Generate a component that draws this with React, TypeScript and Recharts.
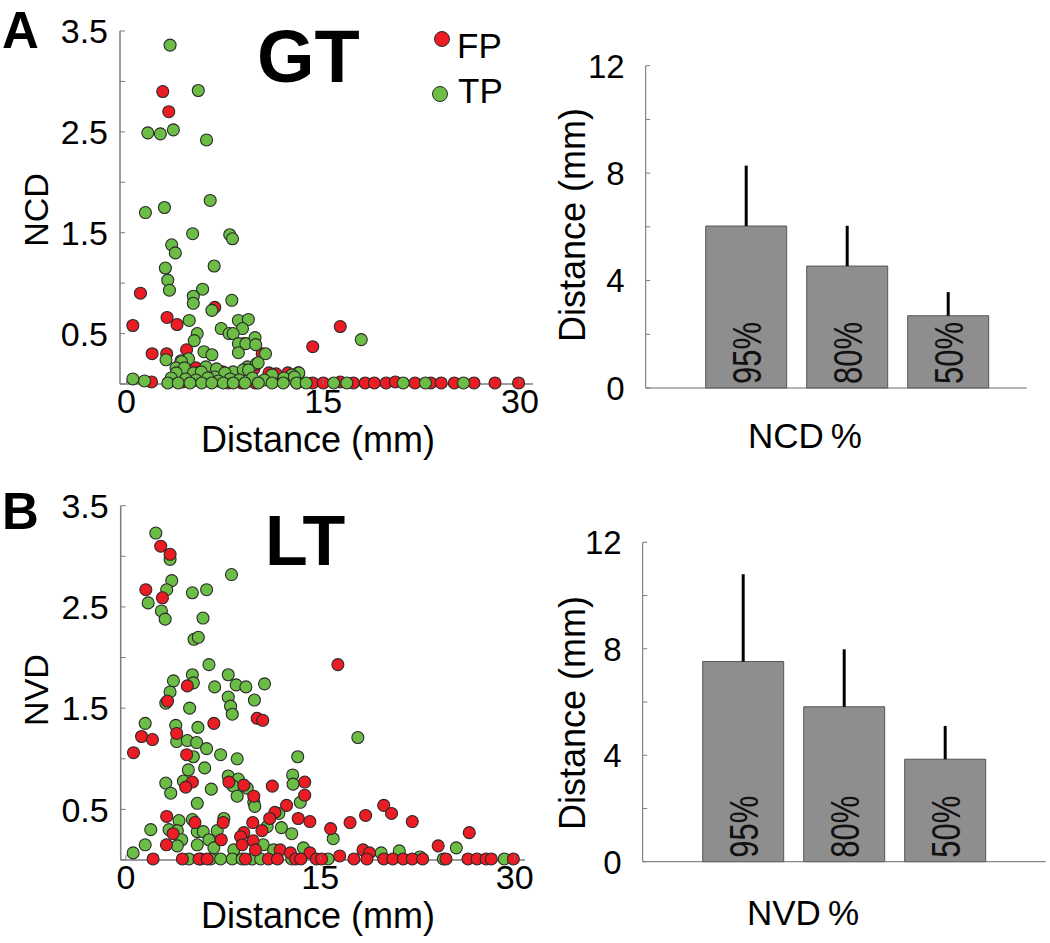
import React from 'react';
import {
  ScatterChart,
  Scatter,
  BarChart,
  Bar,
  ErrorBar,
  LabelList,
  XAxis,
  YAxis,
  Legend,
} from 'recharts';

const FONT = '"Liberation Sans", Arial, Helvetica, sans-serif';
const RED = '#ec1c24';
const GREEN = '#6cbd45';
const EDGE = '#2a2a2a';
const AXIS = '#7d7d7d';
const BAR_FILL = '#8e8e8e';

type Pt = [number, number];

// GT panel: [distance mm, NCD]
const gtTP: Pt[] = [
  [3.32, 3.36], [5.47, 2.91], [1.62, 2.49], [2.58, 2.48], [3.57, 2.52], [6.1, 2.42],
  [6.38, 1.82], [1.44, 1.7], [2.89, 1.75], [5.04, 1.49], [7.87, 1.48], [8.08, 1.44],
  [3.44, 1.38], [3.72, 1.3], [6.68, 1.17], [2.96, 1.15], [3.14, 1.03], [3.27, 0.93],
  [5.8, 0.94], [5.09, 0.87], [5.09, 0.8], [8.03, 0.83], [6.51, 0.73], [4.78, 0.63],
  [8.53, 0.63], [9.29, 0.64], [7.22, 0.55], [8.84, 0.55], [5.39, 0.5], [7.82, 0.5],
  [8.13, 0.5], [5.16, 0.43], [8.53, 0.4], [9.1, 0.4], [9.8, 0.46], [9.85, 0.39],
  [17.9, 0.44], [5.9, 0.32], [6.51, 0.29], [8.53, 0.31], [10.6, 0.3], [3.01, 0.24],
  [4.15, 0.23], [4.73, 0.25], [4.2, 0.22], [3.77, 0.16], [4.41, 0.16], [6.05, 0.17],
  [6.86, 0.15], [8.13, 0.12], [9.22, 0.17], [9.9, 0.2], [10.04, 0.21], [13.14, 0.11],
  [12.6, 0.09], [0.48, 0.05], [1.37, 0.03], [5.1, 0.11], [5.7, 0.12], [3.79, 0.11],
  [3.4, 0.06], [3.15, 0.01], [6.75, 0.07], [7.5, 0.11], [8.9, 0.14], [9.3, 0.14],
  [11.1, 0.09], [12.0, 0.06], [12.8, 0.07], [4.5, 0.05], [5.3, 0.04], [6.2, 0.06],
  [7.0, 0.03], [7.9, 0.05], [8.6, 0.04], [9.6, 0.06], [10.5, 0.04],
  [3.94, 0.01], [4.84, 0.01], [5.73, 0.01], [6.5, 0.01], [7.38, 0.01], [8.14, 0.01],
  [9.03, 0.01], [10.05, 0.01], [11.1, 0.01], [11.95, 0.01], [12.97, 0.01], [13.7, 0.01],
  [15.8, 0.01], [16.8, 0.01], [21.1, 0.01], [22.8, 0.01], [25.7, 0.01],
];

const gtFP: Pt[] = [
  [2.76, 2.9], [3.22, 2.7], [1.06, 0.9], [0.48, 0.58], [3.09, 0.66], [3.85, 0.59],
  [6.73, 0.76], [16.3, 0.57], [14.2, 0.37], [8.96, 0.4], [1.95, 0.3], [3.06, 0.3],
  [4.58, 0.34], [10.35, 0.3], [9.72, 0.15], [5.29, 0.16], [5.54, 0.11], [7.32, 0.12],
  [10.86, 0.11], [11.4, 0.1], [12.3, 0.11], [13.1, 0.11], [1.9, 0.02], [4.28, 0.02],
  [7.76, 0.01], [8.78, 0.01], [9.8, 0.01], [13.0, 0.01], [14.2, 0.01], [15.0, 0.01],
  [16.3, 0.02], [17.3, 0.01], [18.2, 0.01], [18.9, 0.01], [19.8, 0.01], [20.5, 0.02],
  [22.0, 0.01], [23.2, 0.01], [24.0, 0.01], [25.0, 0.01], [26.5, 0.01], [28.1, 0.01],
  [29.9, 0.01],
];

// LT panel: [distance mm, NVD]
const ltTP: Pt[] = [
  [2.31, 3.23], [3.41, 2.97], [3.54, 2.76], [3.15, 2.67], [1.72, 2.54], [2.74, 2.46],
  [3.03, 2.38], [5.13, 2.64], [6.23, 2.67], [8.15, 2.82], [5.95, 2.39], [5.26, 2.18],
  [5.59, 2.2], [6.41, 1.93], [7.9, 1.83], [5.13, 1.83], [5.21, 1.75], [3.67, 1.77],
  [6.85, 1.71], [8.51, 1.73], [9.26, 1.71], [10.7, 1.74], [3.41, 1.66], [7.9, 1.61],
  [9.92, 1.58], [8.08, 1.52], [3.08, 1.55], [4.92, 1.5], [8.21, 1.44], [1.49, 1.35],
  [3.85, 1.33], [5.56, 1.31], [3.92, 1.17], [4.74, 1.18], [5.46, 1.16], [6.23, 1.1],
  [7.31, 1.04], [5.21, 1.02], [8.59, 1.0], [13.26, 1.02], [6.08, 0.91], [4.82, 0.89],
  [12.87, 0.84], [12.9, 0.75], [17.9, 1.21], [3.08, 0.76], [4.44, 0.78], [7.9, 0.83],
  [8.67, 0.8], [8.28, 0.73], [9.36, 0.71], [3.46, 0.66], [6.59, 0.7], [8.59, 0.63],
  [5.51, 0.56], [9.87, 0.57], [13.46, 0.57], [9.95, 0.53], [11.8, 0.46], [4.1, 0.39],
  [5.13, 0.4], [7.56, 0.41], [1.92, 0.3], [3.33, 0.3], [3.97, 0.29], [5.51, 0.28],
  [5.97, 0.28], [7.05, 0.29], [10.9, 0.33], [12.0, 0.32], [12.8, 0.26], [16.0, 0.21],
  [1.49, 0.15], [0.56, 0.07], [4.31, 0.2], [3.97, 0.14], [5.51, 0.15], [6.41, 0.2],
  [6.79, 0.12], [8.33, 0.1], [10.6, 0.15], [11.4, 0.1], [13.7, 0.12], [19.7, 0.07],
  [21.1, 0.09], [25.5, 0.12], [22.7, 0.03],
  [4.87, 0.01], [5.77, 0.01], [6.54, 0.01], [7.31, 0.01], [8.21, 0.01], [8.97, 0.01],
  [9.74, 0.01], [10.4, 0.01], [12.8, 0.01], [15.6, 0.01], [24.5, 0.01], [29.2, 0.01],
];

const ltFP: Pt[] = [
  [2.69, 3.1], [3.41, 3.02], [1.54, 2.67], [2.82, 2.59], [16.36, 1.93], [4.74, 1.72],
  [3.21, 1.57], [10.13, 1.4], [10.56, 1.38], [6.79, 1.35], [1.21, 1.22], [2.05, 1.19],
  [3.92, 1.25], [0.59, 1.06], [4.69, 1.04], [5.13, 0.77], [4.62, 0.72], [7.95, 0.77],
  [9.1, 0.74], [11.3, 0.73], [13.8, 0.77], [13.8, 0.64], [9.87, 0.63], [12.4, 0.54],
  [11.5, 0.47], [11.1, 0.41], [19.9, 0.54], [20.5, 0.46], [18.5, 0.44], [22.1, 0.38],
  [17.3, 0.37], [13.3, 0.41], [14.2, 0.38], [9.79, 0.37], [3.15, 0.43], [5.33, 0.37],
  [7.51, 0.37], [15.8, 0.31], [10.5, 0.29], [26.5, 0.27], [9.1, 0.27], [3.64, 0.26],
  [8.85, 0.23], [7.36, 0.2], [9.82, 0.19], [8.97, 0.15], [3.13, 0.15], [24.1, 0.14],
  [18.3, 0.1], [18.8, 0.07], [10.0, 0.1], [11.9, 0.1], [12.7, 0.07], [14.2, 0.07],
  [16.5, 0.04],
  [2.1, 0.01], [4.36, 0.01], [5.64, 0.01], [6.28, 0.01], [9.23, 0.01], [11.0, 0.01],
  [11.7, 0.01], [13.1, 0.01], [13.5, 0.01], [14.7, 0.01], [15.1, 0.01], [17.6, 0.01],
  [18.6, 0.01], [19.9, 0.01], [20.6, 0.01], [21.4, 0.01], [22.1, 0.01], [22.9, 0.01],
  [24.7, 0.01], [26.4, 0.01], [27.1, 0.01], [27.8, 0.01], [28.2, 0.01], [29.9, 0.01],
];

// bar panels
const percentiles = ['95%', '80%', '50%'];
const ncdMeans = [6.03, 4.54, 2.69];
const ncdErr = [2.25, 1.5, 0.88];
const nvdMeans = [7.52, 5.82, 3.85];
const nvdErr = [3.28, 2.16, 1.25];

const ratioTicks = [0, 0.5, 1, 1.5, 2, 2.5, 3, 3.5];
const ratioLabels = [0.5, 1.5, 2.5, 3.5];
const distTicks = [0, 15, 30];
const mmTicks = [0, 2, 4, 6, 8, 10, 12];
const mmLabels = [0, 4, 8, 12];

const toXY = (pts: Pt[]) => pts.map(([x, y]) => ({ x, y }));
const barRows = (means: number[], errs: number[]) =>
  percentiles.map((name, i) => ({ name, value: means[i], err: [0, errs[i]] }));

const dot = (color: string) => (p: any) => (
  <circle cx={p.cx} cy={p.cy} r={6} fill={color} stroke={EDGE} strokeWidth={1.1} />
);

// y ticks point inward, only some are labelled (default tickSize 6 + tickMargin 2)
const makeYTick = (labelled: number[], gap: number, fs: number, len: number) => (p: any) => {
  const ax = p.x + 8;
  const v = p.payload.value;
  return (
    <g>
      <line x1={ax} x2={ax + len} y1={p.y} y2={p.y} stroke={AXIS} strokeWidth={1} />
      {labelled.includes(v) && (
        <text x={ax - gap} y={p.y} dy="0.36em" textAnchor="end" fontSize={fs} fontFamily={FONT} fill="#000">
          {v}
        </text>
      )}
    </g>
  );
};

const XTick = (p: any) => {
  const ay = p.y - 8;
  return (
    <g>
      <line x1={p.x} x2={p.x} y1={ay} y2={ay - 5} stroke={AXIS} />
      <text x={p.x} y={ay + 17} dy="0.36em" textAnchor="middle" fontSize={34} fontFamily={FONT} fill="#000">
        {p.payload.value}
      </text>
    </g>
  );
};

// rotated percentile text inside each bar, slightly widened like the source
const BarText = (p: any) => {
  const cx = p.x + p.width / 2;
  const by = p.y + p.height - 4;
  return (
    <text
      x={0}
      y={0}
      dy="0.36em"
      transform={`translate(${cx} ${by}) rotate(-90) scale(1 1.3)`}
      fontSize={31}
      fontFamily={FONT}
      fill="#111"
    >
      {p.value}
    </text>
  );
};

const LegendBox = () => (
  <svg width={100} height={95} style={{ display: 'block' }}>
    <circle cx={12} cy={14} r={7.5} fill={RED} stroke={EDGE} />
    <text x={27} y={33} fontSize={35} fontFamily={FONT} fill="#000">FP</text>
    <circle cx={10} cy={69} r={7.5} fill={GREEN} stroke={EDGE} />
    <text x={28} y={78} fontSize={35} fontFamily={FONT} fill="#000">TP</text>
  </svg>
);

function ScatterPanel(props: {
  width: number;
  height: number;
  margin: { top: number; right: number; bottom: number; left: number };
  xDomain: [number, number];
  fp: Pt[];
  tp: Pt[];
  fpFirst: boolean;
  legend?: boolean;
}) {
  const fpSeries = <Scatter key="fp" name="FP" data={toXY(props.fp)} shape={dot(RED)} isAnimationActive={false} />;
  const tpSeries = <Scatter key="tp" name="TP" data={toXY(props.tp)} shape={dot(GREEN)} isAnimationActive={false} />;
  return (
    <ScatterChart width={props.width} height={props.height} margin={props.margin}>
      <XAxis
        type="number"
        dataKey="x"
        domain={props.xDomain}
        ticks={distTicks}
        height={40}
        axisLine={{ stroke: AXIS, strokeWidth: 1.5 }}
        tickLine={false}
        tick={XTick}
      />
      <YAxis
        type="number"
        dataKey="y"
        domain={[0, 3.5]}
        ticks={ratioTicks}
        width={60}
        axisLine={{ stroke: AXIS, strokeWidth: 1.5 }}
        tickLine={false}
        tick={makeYTick(ratioLabels, 12, 34, 5)}
      />
      {props.legend && (
        <Legend
          layout="vertical"
          align="center"
          verticalAlign="middle"
          wrapperStyle={{ left: 430, top: 25, width: 100 }}
          content={LegendBox}
        />
      )}
      {props.fpFirst ? [fpSeries, tpSeries] : [tpSeries, fpSeries]}
    </ScatterChart>
  );
}

function BarPanel(props: {
  width: number;
  height: number;
  margin: { top: number; right: number; bottom: number; left: number };
  padding: { left: number; right: number };
  rows: { name: string; value: number; err: number[] }[];
}) {
  return (
    <BarChart width={props.width} height={props.height} margin={props.margin} data={props.rows} barSize={81}>
      <XAxis
        dataKey="name"
        height={10}
        padding={props.padding}
        axisLine={{ stroke: '#6b6b6b', strokeWidth: 1 }}
        tickLine={false}
        tick={false}
      />
      <YAxis
        type="number"
        domain={[0, 12]}
        ticks={mmTicks}
        width={60}
        axisLine={{ stroke: '#6b6b6b', strokeWidth: 1 }}
        tickLine={false}
        tick={makeYTick(mmLabels, 21, 33, 4.5)}
      />
      <Bar dataKey="value" fill={BAR_FILL} stroke="#555" strokeWidth={1} isAnimationActive={false}>
        <ErrorBar dataKey="err" width={0} strokeWidth={3} stroke="#000" direction="y" />
        <LabelList dataKey="name" content={BarText} />
      </Bar>
    </BarChart>
  );
}

const txt = { fontFamily: FONT, fill: '#000' };

export default function App() {
  return (
    <div style={{ position: 'absolute', left: 0, top: 0, width: 1050, height: 943, background: '#fff', overflow: 'hidden' }}>
      <div style={{ position: 'absolute', left: 0, top: 0 }}>
        <ScatterPanel
          width={560}
          height={470}
          margin={{ top: 31, right: 27, bottom: 46, left: 60 }}
          xDomain={[-0.5, 31]}
          fp={gtFP}
          tp={gtTP}
          fpFirst
          legend
        />
      </div>
      <div style={{ position: 'absolute', left: 0, top: 470 }}>
        <ScatterPanel
          width={560}
          height={473}
          margin={{ top: 35.7, right: 35, bottom: 43, left: 60.7 }}
          xDomain={[-0.4, 30.8]}
          fp={ltFP}
          tp={ltTP}
          fpFirst={false}
        />
      </div>
      <div style={{ position: 'absolute', left: 540, top: 0 }}>
        <BarPanel
          width={510}
          height={470}
          margin={{ top: 65.7, right: 23.3, bottom: 72, left: 45.7 }}
          padding={{ left: 50, right: 28 }}
          rows={barRows(ncdMeans, ncdErr)}
        />
      </div>
      <div style={{ position: 'absolute', left: 540, top: 470 }}>
        <BarPanel
          width={510}
          height={473}
          margin={{ top: 72.3, right: 4.3, bottom: 71.3, left: 42.7 }}
          padding={{ left: 50, right: 50 }}
          rows={barRows(nvdMeans, nvdErr)}
        />
      </div>

      {/* panel letters, titles and axis labels */}
      <svg width={1050} height={943} style={{ position: 'absolute', left: 0, top: 0, pointerEvents: 'none' }}>
        <text x={2} y={48} fontSize={51} fontWeight="bold" {...txt}>A</text>
        <text x={2} y={529} fontSize={51} fontWeight="bold" {...txt}>B</text>
        <text x={257} y={82} fontSize={74} fontWeight="bold" {...txt}>GT</text>
        <text x={265} y={565} fontSize={70} fontWeight="bold" {...txt}>LT</text>

        <text x={36} y={210} dy="0.36em" textAnchor="middle" transform="rotate(-90 36 210)" fontSize={34} {...txt}>NCD</text>
        <text x={36} y={690} dy="0.36em" textAnchor="middle" transform="rotate(-90 36 690)" fontSize={34} {...txt}>NVD</text>
        <text x={318} y={452} textAnchor="middle" fontSize={36} {...txt}>Distance (mm)</text>
        <text x={318} y={928} textAnchor="middle" fontSize={36} {...txt}>Distance (mm)</text>

        <text x={572} y={225} dy="0.36em" textAnchor="middle" transform="rotate(-90 572 225)" fontSize={36} {...txt}>Distance (mm)</text>
        <text x={572} y={713} dy="0.36em" textAnchor="middle" transform="rotate(-90 572 713)" fontSize={36} {...txt}>Distance (mm)</text>
        <text x={805} y={448} textAnchor="middle" fontSize={35} {...txt}>NCD{'\u2009'}%</text>
        <text x={803} y={925} textAnchor="middle" fontSize={35} {...txt}>NVD{'\u2009'}%</text>
      </svg>
    </div>
  );
}
